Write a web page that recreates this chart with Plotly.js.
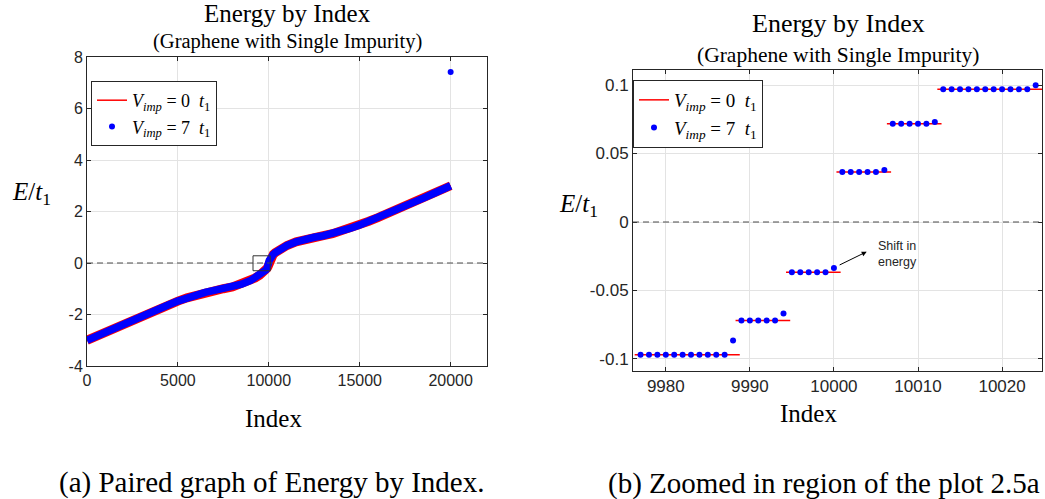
<!DOCTYPE html>
<html>
<head>
<meta charset="utf-8">
<script src="https://cdn.plot.ly/plotly-3.0.1.min.js"></script>
<style>html,body{margin:0;padding:0;background:#fff;}#chart{width:1045px;height:499px;}</style>
</head>
<body>
<div id="chart"></div>
<script>
// ---------- Data: full spectrum (left panel) ----------
const fullIndex = [0, 500, 1000, 1500, 2000, 2500, 3000, 3500, 4000, 4500,
  5000, 5500, 6000, 6500, 7000, 7500, 8000, 8500, 9000, 9250,
  9500, 9650, 9750, 9850, 9900, 9950, 9977, 10000, 10001, 10024,
  10050, 10100, 10150, 10250, 10350, 10500, 10750, 11000, 11500, 12000,
  12500, 13000, 13500, 14000, 14500, 15000, 15500, 16000, 16500, 17000,
  17500, 18000, 18500, 19000, 19500, 20000];
const fullE0 = [-3.00, -2.84, -2.68, -2.52, -2.37, -2.21, -2.06, -1.91, -1.76, -1.62,
  -1.48, -1.35, -1.24, -1.14, -1.06, -1.00, -0.93, -0.82, -0.68, -0.58,
  -0.47, -0.40, -0.34, -0.26, -0.21, -0.15, -0.097, -0.037, 0.037, 0.097,
  0.15, 0.21, 0.26, 0.34, 0.40, 0.47, 0.58, 0.68, 0.82, 0.93,
  1.00, 1.06, 1.14, 1.24, 1.35, 1.48, 1.62, 1.76, 1.91, 2.06,
  2.21, 2.37, 2.52, 2.68, 2.84, 3.00];
const fullE7 = [-3.00, -2.84, -2.68, -2.52, -2.37, -2.21, -2.06, -1.91, -1.76, -1.62,
  -1.48, -1.35, -1.24, -1.14, -1.06, -1.00, -0.93, -0.82, -0.68, -0.58,
  -0.47, -0.40, -0.34, -0.26, -0.21, -0.15, -0.097, -0.034, 0.0365, 0.0998,
  0.15, 0.21, 0.26, 0.34, 0.40, 0.47, 0.58, 0.68, 0.82, 0.93,
  1.00, 1.06, 1.14, 1.24, 1.35, 1.48, 1.62, 1.76, 1.91, 2.06,
  2.21, 2.37, 2.52, 2.68, 2.84, 3.00];
const boundIndex = [20000];
const boundE7 = [7.42];

// ---------- Data: zoomed region (right panel) ----------
const zoomIndex = [9977, 9978, 9979, 9980, 9981, 9982, 9983, 9984, 9985, 9986, 9987, 9988,
  9989, 9990, 9991, 9992, 9993, 9994, 9995, 9996, 9997, 9998, 9999, 10000,
  10001, 10002, 10003, 10004, 10005, 10006, 10007, 10008, 10009, 10010, 10011, 10012,
  10013, 10014, 10015, 10016, 10017, 10018, 10019, 10020, 10021, 10022, 10023, 10024];
const zoomE7 = [-0.097, -0.097, -0.097, -0.097, -0.097, -0.097, -0.097, -0.097, -0.097, -0.097, -0.097, -0.0865,
  -0.072, -0.072, -0.072, -0.072, -0.072, -0.0668, -0.0367, -0.0367, -0.0367, -0.0367, -0.0367, -0.0336,
  0.0365, 0.0365, 0.0365, 0.0365, 0.0365, 0.038, 0.0718, 0.0718, 0.0718, 0.0718, 0.0718, 0.073,
  0.0969, 0.0969, 0.0969, 0.0969, 0.0969, 0.0969, 0.0969, 0.0969, 0.0969, 0.0969, 0.0969, 0.0998];
// degenerate levels of the clean (V_imp = 0) spectrum
const levelE0 = [-0.097, -0.072, -0.0367, 0.0365, 0.0718, 0.0969];
const levelFirst = [9977, 9989, 9995, 10001, 10007, 10013];
const levelLast = [9988, 9994, 10000, 10006, 10012, 10024];

// ---------- Tick labels ----------
const xTicksFull = [0, 5000, 10000, 15000, 20000];
const xTextFull = ['0', '5000', '10000', '15000', '20000'];
const yTicksFull = [-4, -2, 0, 2, 4, 6, 8];
const yTextFull = ['-4', '-2', '0', '2', '4', '6', '8'];
const xTicksZoom = [9980, 9990, 10000, 10010, 10020];
const xTextZoom = ['9980', '9990', '10000', '10010', '10020'];
const yTicksZoom = [-0.1, -0.05, 0, 0.05, 0.1];
const yTextZoom = ['-0.1', '-0.05', '0', '0.05', '0.1'];

// ---------- Build ----------
const RED = '#ff0000', BLUE = '#0000ff', AX = '#262626';
const name0 = '<i>V</i><sub><i>imp</i></sub> = 0  <i>t</i><sub>1</sub>';
const name7 = '<i>V</i><sub><i>imp</i></sub> = 7  <i>t</i><sub>1</sub>';

// segments of the clean levels, with small visual overhang
const segX = [], segY = [];
for (let i = 0; i < levelE0.length; i++) {
  segX.push(levelFirst[i] - 0.7, levelLast[i] + 0.8, null);
  segY.push(levelE0[i], levelE0[i], null);
}

const traces = [
  {x: fullIndex, y: fullE0, xaxis: 'x', yaxis: 'y', mode: 'lines', line: {color: RED, width: 9},
   showlegend: false, hoverinfo: 'skip'},
  {x: fullIndex, y: fullE0, xaxis: 'x', yaxis: 'y', mode: 'lines', line: {color: RED, width: 1.5},
   name: name0, legend: 'legend'},
  {x: fullIndex, y: fullE7, xaxis: 'x', yaxis: 'y', mode: 'lines', line: {color: BLUE, width: 7.5},
   showlegend: false, hoverinfo: 'skip'},
  {x: boundIndex, y: boundE7, xaxis: 'x', yaxis: 'y', mode: 'markers', marker: {color: BLUE, size: 6},
   name: name7, legend: 'legend'},
  {x: segX, y: segY, xaxis: 'x2', yaxis: 'y2', mode: 'lines', line: {color: RED, width: 1.5},
   name: name0, legend: 'legend2', connectgaps: false},
  {x: zoomIndex, y: zoomE7, xaxis: 'x2', yaxis: 'y2', mode: 'markers', marker: {color: BLUE, size: 6},
   name: name7, legend: 'legend2'}
];

function axis(o) {
  return Object.assign({
    ticks: 'inside', ticklen: 4, tickwidth: 1, tickcolor: AX,
    showline: true, linecolor: AX, linewidth: 1, mirror: 'ticks',
    showgrid: true, gridcolor: '#e3e3e3', gridwidth: 1, zeroline: false,
    tickmode: 'array', fixedrange: true
  }, o);
}
const W = 1045, H = 499;
const px = v => v / W, py = v => 1 - v / H;

const legendStyle = {
  xanchor: 'left', yanchor: 'top', bgcolor: '#ffffff', bordercolor: AX, borderwidth: 1,
  itemwidth: 30, tracegroupgap: 0
};

function txt(text, x, y, size, family, extra) {
  return Object.assign({text: text, xref: 'paper', yref: 'paper', x: px(x), y: py(y),
    xanchor: 'center', yanchor: 'middle', showarrow: false,
    font: {family: family || 'Liberation Serif', size: size, color: '#000'}}, extra || {});
}

const layout = {
  width: W, height: H, margin: {l: 0, r: 0, t: 0, b: 0, pad: 0},
  paper_bgcolor: '#fff', plot_bgcolor: '#fff',
  font: {family: 'Liberation Sans', color: AX},
  xaxis: axis({domain: [px(87), px(487)], range: [0, 22000], anchor: 'y',
    tickvals: xTicksFull, ticktext: xTextFull, tickfont: {family: 'Liberation Sans', size: 16, color: AX}}),
  yaxis: axis({domain: [1 - 366 / H, 1 - 57 / H], range: [-4, 8], anchor: 'x',
    tickvals: yTicksFull, ticktext: yTextFull, tickfont: {family: 'Liberation Sans', size: 16, color: AX}}),
  xaxis2: axis({domain: [px(633), px(1042)], range: [9976.1, 10024.75], anchor: 'y2',
    tickvals: xTicksZoom, ticktext: xTextZoom, tickfont: {family: 'Liberation Sans', size: 17, color: AX}}),
  yaxis2: axis({domain: [1 - 371 / H, 1 - 70 / H], range: [-0.1088, 0.111], anchor: 'x2',
    tickvals: yTicksZoom, ticktext: yTextZoom, tickfont: {family: 'Liberation Sans', size: 17, color: AX}}),
  legend: Object.assign({}, legendStyle, {x: px(91), y: py(81),
    font: {family: 'Liberation Serif', size: 18, color: '#000'}}),
  legend2: Object.assign({}, legendStyle, {x: px(633), y: py(80),
    font: {family: 'Liberation Serif', size: 19, color: '#000'}}),
  shapes: [
    {type: 'line', xref: 'x domain', yref: 'y', x0: 0, x1: 1, y0: 0, y1: 0,
     line: {color: '#4d4d4d', width: 1, dash: '6px,4px'}, layer: 'above'},
    {type: 'line', xref: 'x2 domain', yref: 'y2', x0: 0, x1: 1, y0: 0, y1: 0,
     line: {color: '#4d4d4d', width: 1, dash: '6px,4px'}, layer: 'above'},
    {type: 'rect', xref: 'x', yref: 'y', x0: 9130, x1: 10080, y0: -0.30, y1: 0.28,
     line: {color: '#333', width: 1}, layer: 'above'}
  ],
  annotations: [
    txt('Energy by Index', 287, 13, 25),
    txt('(Graphene with Single Impurity)', 287, 42, 20.5),
    txt('Energy by Index', 838, 23, 26),
    txt('(Graphene with Single Impurity)', 838, 55, 21.5),
    txt('Index', 273, 418, 25),
    txt('Index', 808, 413, 25),
    txt('<i>E</i>/<i>t</i><sub>1</sub>', 31, 194, 25),
    txt('<i>E</i>/<i>t</i><sub>1</sub>', 578, 206, 25),
    txt('(a) Paired graph of Energy by Index.', 271, 482, 29),
    txt('(b) Zoomed in region of the plot 2.5a', 824, 483, 29),
    {text: '', xref: 'x2', yref: 'y2', axref: 'x2', ayref: 'y2',
     x: 10003.9, y: -0.0217, ax: zoomIndex[23] + 0.5, ay: zoomE7[23] + 0.0017,
     showarrow: true, arrowhead: 2, arrowsize: 1, arrowwidth: 1, arrowcolor: '#000'},
    {text: 'Shift in<br>energy', xref: 'x2', yref: 'y2', x: 10005.06, y: -0.0234,
     xanchor: 'left', yanchor: 'middle', align: 'left', showarrow: false,
     font: {family: 'Liberation Sans', size: 12.5, color: AX}}
  ]
};

Plotly.newPlot('chart', traces, layout, {staticPlot: true, displayModeBar: false});
</script>
</body>
</html>
